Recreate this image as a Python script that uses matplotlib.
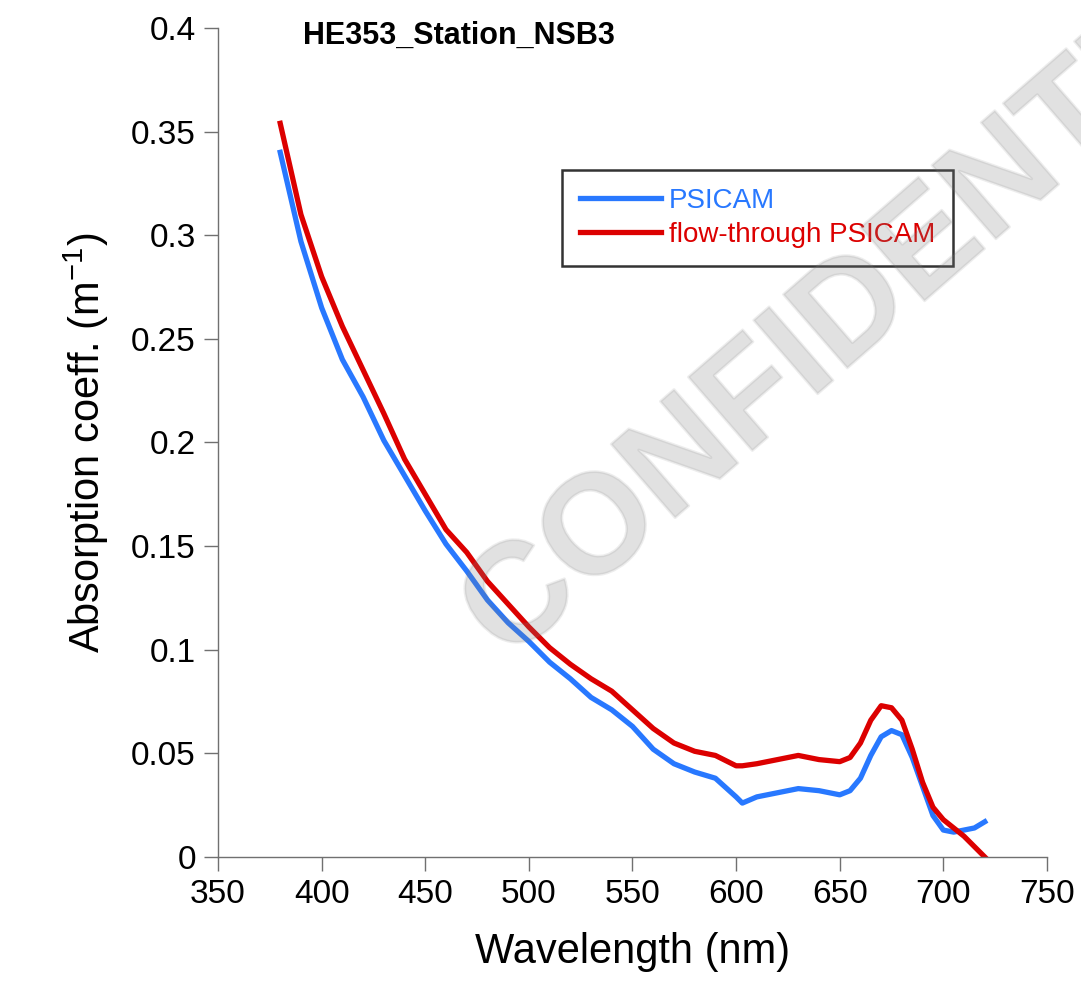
import matplotlib
matplotlib.use('Agg')
import matplotlib.pyplot as plt
import matplotlib.patheffects as pe

plt.rcParams['font.family'] = ['Liberation Sans', 'DejaVu Sans']
plt.rcParams['mathtext.fontset'] = 'custom'
plt.rcParams['mathtext.rm'] = 'Liberation Sans'
plt.rcParams['mathtext.it'] = 'Liberation Sans:italic'

# wavelength grid (nm)
wavelength = [380, 390, 400, 410, 420, 430, 440, 450, 460, 470, 480, 490, 500,
              510, 520, 530, 540, 550, 560, 570, 580, 590, 600, 603, 610, 620,
              630, 640, 650, 655, 660, 665, 670, 675, 680, 685, 690, 695, 700,
              705, 710, 715, 720]

psicam = [0.340, 0.297, 0.265, 0.240, 0.222, 0.201, 0.184, 0.167, 0.151, 0.138,
          0.124, 0.113, 0.104, 0.094, 0.086, 0.077, 0.071, 0.063, 0.052, 0.045,
          0.041, 0.038, 0.029, 0.026, 0.029, 0.031, 0.033, 0.032, 0.030, 0.032,
          0.038, 0.049, 0.058, 0.061, 0.059, 0.048, 0.034, 0.020, 0.013, 0.012,
          0.013, 0.014, 0.017]

flow_through = [0.354, 0.310, 0.280, 0.256, 0.235, 0.214, 0.192, 0.175, 0.158,
                0.147, 0.133, 0.122, 0.111, 0.101, 0.093, 0.086, 0.080, 0.071,
                0.062, 0.055, 0.051, 0.049, 0.044, 0.044, 0.045, 0.047, 0.049,
                0.047, 0.046, 0.048, 0.055, 0.066, 0.073, 0.072, 0.066, 0.052,
                0.036, 0.024, 0.018, 0.014, 0.010, 0.005, 0.0]

xticks = [350, 400, 450, 500, 550, 600, 650, 700, 750]
yticks = [0, 0.05, 0.1, 0.15, 0.2, 0.25, 0.3, 0.35, 0.4]

fig = plt.figure(figsize=(10.81, 9.82), dpi=100)
ax = fig.add_axes([0.2017, 0.1273, 0.7668, 0.8442])

ax.plot(wavelength, psicam, color='#2878ff', lw=3.8, label='PSICAM')
ax.plot(wavelength, flow_through, color='#dc0000', lw=3.8,
        label='flow-through PSICAM')

ax.set_xlim(350, 750)
ax.set_ylim(0, 0.4)
ax.set_xticks(xticks)
ax.set_yticks(yticks)
ax.set_yticklabels(['%g' % v for v in yticks])

for s in ['top', 'right']:
    ax.spines[s].set_visible(False)
for s in ['left', 'bottom']:
    ax.spines[s].set_color('#707070')
    ax.spines[s].set_linewidth(1.0)
ax.tick_params(direction='out', length=10, width=1.0, color='#707070',
               labelsize=24, pad=6)

ax.set_xlabel('Wavelength (nm)', fontsize=30, labelpad=16)
ax.set_ylabel(r'Absorption coeff. (m$^{-1}$)', fontsize=30, labelpad=14)

ax.text(0.102, 0.99, 'HE353_Station_NSB3', transform=ax.transAxes,
        fontsize=22, fontweight='bold', va='center', ha='left')

leg = ax.legend(loc='upper left', bbox_to_anchor=(0.415, 0.829),
                borderaxespad=0, fontsize=20, frameon=True, fancybox=False,
                handlelength=2.9, handletextpad=0.3, labelspacing=0.3,
                borderpad=0.65)
leg.get_frame().set_edgecolor('black')
leg.get_frame().set_linewidth(1.8)
for txt, line in zip(leg.get_texts(), leg.get_lines()):
    txt.set_color(line.get_color())

# watermark
wm = fig.text(0.815, 0.705, 'CONFIDENTIAL', fontsize=102, fontweight='bold',
              color='#808080', alpha=0.12, rotation=41, ha='center',
              va='center', zorder=10)
wm.set_path_effects([pe.withStroke(linewidth=2, foreground='#707070')])

fig.savefig('out.png', dpi=100)
